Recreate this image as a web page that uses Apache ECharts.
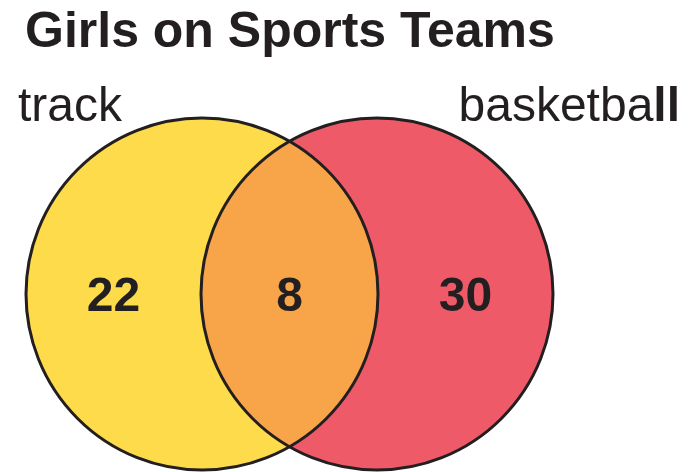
<!DOCTYPE html>
<html>
<head>
<meta charset="utf-8">
<script src="https://cdn.jsdelivr.net/npm/echarts@6/dist/echarts.min.js"></script>
<style>
html, body { margin: 0; padding: 0; background: #fff; }
#venn { width: 688px; height: 472px; }
</style>
</head>
<body>
<div id="venn"></div>
<script>
var chartTitle = 'Girls on Sports Teams';
var setNames = ['track', 'basketball'];
// track only, both, basketball only
var regionCounts = [22, 8, 30];

var setColors = ['#fddb4a', '#ef5a69'];
var bothColor = '#f7a548';
var ink = '#231f20';
var font = '"Liberation Sans", Arial, sans-serif';

// layout in pixel units (axes map 1:1 to the canvas)
var centers = [[202, 294], [377, 294]];
var radius = 176;

var vennChart = echarts.init(document.getElementById('venn'));

function lensPoints(api) {
    var c1 = api.coord(centers[0]);
    var c2 = api.coord(centers[1]);
    var r = api.size([radius, 0])[0];
    var a = (c2[0] - c1[0]) / 2;
    var h = Math.sqrt(r * r - a * a);
    return { c1: c1, c2: c2, r: r, mx: c1[0] + a, top: c1[1] - h, bottom: c1[1] + h };
}

var option = {
    animation: false,
    title: {
        text: chartTitle,
        left: 20,
        top: 3,
        textStyle: { fontFamily: font, fontSize: 50, fontWeight: 'bold', color: ink }
    },
    grid: { left: 0, right: 0, top: 0, bottom: 0 },
    xAxis: { type: 'value', min: 0, max: 688, show: false },
    yAxis: { type: 'value', min: 0, max: 472, inverse: true, show: false },
    series: [
        {
            // filled circles
            type: 'custom',
            data: setNames.map(function (n, i) { return [i]; }),
            renderItem: function (params, api) {
                var i = api.value(0);
                var c = api.coord(centers[i]);
                var r = api.size([radius, 0])[0];
                return {
                    type: 'circle',
                    shape: { cx: c[0], cy: c[1], r: r },
                    style: { fill: setColors[i], stroke: null }
                };
            },
            z: 1
        },
        {
            // overlap region
            type: 'custom',
            data: [[0]],
            renderItem: function (params, api) {
                var p = lensPoints(api);
                var r = p.r;
                var d = 'M' + p.mx + ' ' + p.top +
                    ' A' + r + ' ' + r + ' 0 0 1 ' + p.mx + ' ' + p.bottom +
                    ' A' + r + ' ' + r + ' 0 0 1 ' + p.mx + ' ' + p.top + ' Z';
                return {
                    type: 'path',
                    shape: { pathData: d },
                    style: { fill: bothColor, stroke: null }
                };
            },
            z: 2
        },
        {
            // outlines
            type: 'custom',
            data: setNames.map(function (n, i) { return [i]; }),
            renderItem: function (params, api) {
                var i = api.value(0);
                var c = api.coord(centers[i]);
                var r = api.size([radius, 0])[0];
                return {
                    type: 'circle',
                    shape: { cx: c[0], cy: c[1], r: r },
                    style: { fill: null, stroke: ink, lineWidth: 3 }
                };
            },
            z: 3
        },
        {
            // region counts
            type: 'custom',
            data: regionCounts.map(function (v, i) { return [i, v]; }),
            renderItem: function (params, api) {
                var i = api.value(0);
                var p = lensPoints(api);
                var xs = [
                    (p.c1[0] - p.r + (p.c2[0] - p.r)) / 2,
                    p.mx,
                    (p.c1[0] + p.r + (p.c2[0] + p.r)) / 2
                ];
                return {
                    type: 'text',
                    style: {
                        x: xs[i], y: p.c1[1] + 4,
                        text: String(api.value(1)),
                        align: 'center', verticalAlign: 'middle',
                        fontFamily: font, fontSize: 48, fontWeight: 'bold', fill: ink
                    }
                };
            },
            z: 4
        },
        {
            // set names
            type: 'custom',
            data: setNames.map(function (n, i) { return [i]; }),
            renderItem: function (params, api) {
                var i = api.value(0);
                var pos = i === 0 ? api.coord([18, 108]) : api.coord([680, 108]);
                var txt = i === 0 ? setNames[0] : 'basketba{b|ll}';
                return {
                    type: 'text',
                    style: {
                        x: pos[0], y: pos[1],
                        text: txt,
                        align: i === 0 ? 'left' : 'right', verticalAlign: 'middle',
                        fontFamily: font, fontSize: 48, fill: ink,
                        rich: { b: { fontFamily: font, fontSize: 48, fontWeight: 'bold', fill: ink } }
                    }
                };
            },
            z: 4
        }
    ]
};

vennChart.setOption(option);
</script>
</body>
</html>
